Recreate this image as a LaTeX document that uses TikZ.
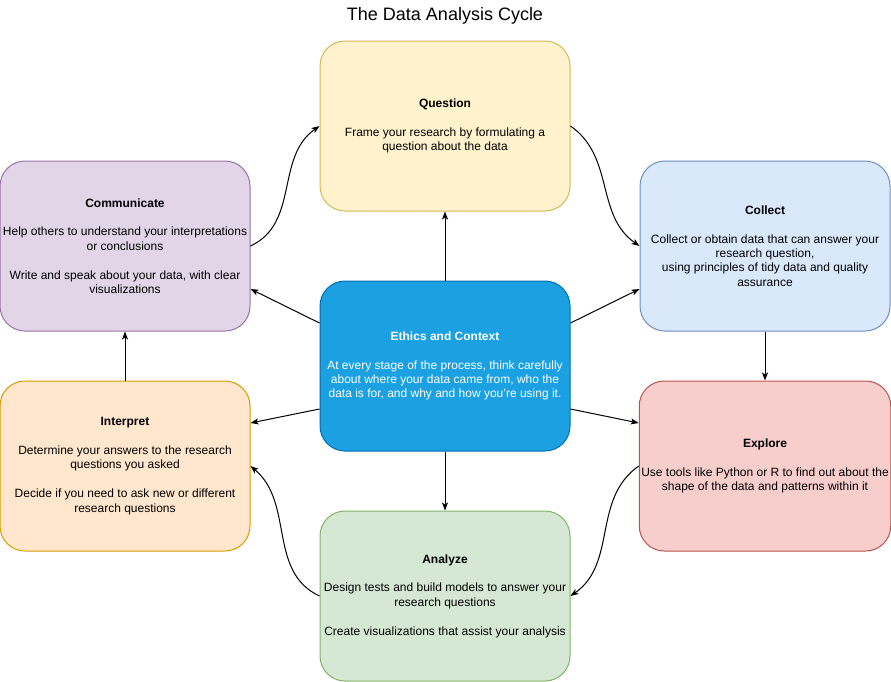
\documentclass[tikz,border=0pt]{standalone}
\usepackage{fontspec}
\setmainfont{Liberation Sans}
\usetikzlibrary{arrows.meta}

\definecolor{qfill}{HTML}{FFF2CC}\definecolor{qline}{HTML}{D6B656}
\definecolor{cfill}{HTML}{DAE8FC}\definecolor{cline}{HTML}{6C8EBF}
\definecolor{efill}{HTML}{F8CECC}\definecolor{eline}{HTML}{B85450}
\definecolor{afill}{HTML}{D5E8D4}\definecolor{aline}{HTML}{82B366}
\definecolor{ifill}{HTML}{FFE6CC}\definecolor{iline}{HTML}{D79B00}
\definecolor{mfill}{HTML}{E1D5E7}\definecolor{mline}{HTML}{9673A6}
\definecolor{xfill}{HTML}{1BA1E2}\definecolor{xline}{HTML}{006EAF}

\begin{document}
\begin{tikzpicture}[x=1pt, y=1pt, ->, >={Stealth[length=8pt, width=6pt, inset=2pt]}, line width=1pt]

    %styles
    \tikzstyle{stage}=[rectangle, rounded corners=25pt, line width=1pt, minimum width=250pt, minimum height=170pt, inner sep=2pt, align=center, font=\fontsize{12}{14.4}\selectfont]
    \tikzstyle{question}=[stage, draw=qline, fill=qfill]
    \tikzstyle{collect}=[stage, draw=cline, fill=cfill]
    \tikzstyle{explore}=[stage, draw=eline, fill=efill]
    \tikzstyle{analyze}=[stage, draw=aline, fill=afill]
    \tikzstyle{interpret}=[stage, draw=iline, fill=ifill]
    \tikzstyle{communicate}=[stage, draw=mline, fill=mfill]
    \tikzstyle{ethics}=[stage, draw=xline, fill=xfill, text=white]

    \useasboundingbox (0,0) rectangle (891,-681);

    % nodes
    \node (title) at (445,-16) {\fontsize{18}{21}\selectfont The Data Analysis Cycle};
    \node[question] (q) at (445,-126) {\textbf{Question}\\[14.4pt]Frame your research by formulating a\\question about the data};
    \node[collect] (c) at (765,-246) {\textbf{Collect}\\[14.4pt]Collect or obtain data that can answer your\\research question,\\using principles of tidy data and quality\\assurance};
    \node[explore] (e) at (765,-466) {\textbf{Explore}\\[14.4pt]Use tools like Python or R to find out about the\\shape of the data and patterns within it};
    \node[analyze] (a) at (445,-596) {\textbf{Analyze}\\[14.4pt]Design tests and build models to answer your\\research questions\\[14.4pt]Create visualizations that assist your analysis};
    \node[interpret] (i) at (125,-466) {\textbf{Interpret}\\[14.4pt]Determine your answers to the research\\questions you asked\\[14.4pt]Decide if you need to ask new or different\\research questions};
    \node[communicate] (m) at (125,-246) {\textbf{Communicate}\\[14.4pt]Help others to understand your interpretations\\or conclusions\\[14.4pt]Write and speak about your data, with clear\\visualizations};
    \node[ethics] (x) at (445,-366) {\textbf{Ethics and Context}\\[14.4pt]At every stage of the process, think carefully\\about where your data came from, who the\\data is for, and why and how you're using it.};

    % arrows
    \draw (x) -- (q);
    \draw (x) -- (a);
    \draw ([yshift=-42.5pt]x.north west) -- ([yshift=42.5pt]m.south east);
    \draw ([yshift=-42.5pt]x.north east) -- ([yshift=42.5pt]c.south west);
    \draw ([yshift=42.5pt]x.south west) -- ([yshift=-42.5pt]i.north east);
    \draw ([yshift=42.5pt]x.south east) -- ([yshift=-42.5pt]e.north west);
    \draw (c) -- (e);
    \draw (i) -- (m);
    \draw (m.east) to[out=25, in=215] (q.west);
    \draw (q.east) to[out=-35, in=145] (c.west);
    \draw (e.west) to[out=215, in=35] (a.east);
    \draw (a.west) to[out=155, in=-40] (i.east);
\end{tikzpicture}
\end{document}
